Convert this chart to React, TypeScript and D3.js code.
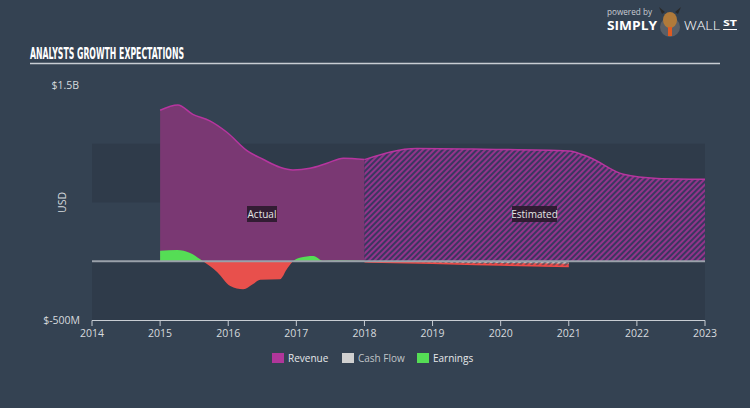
import React from "react";
import * as d3 from "d3";

const revenueActual: [number, number][] = [
  [2015.0, 1285], [2015.26, 1330], [2015.48, 1250], [2015.73, 1195], [2015.98, 1098],
  [2016.28, 940], [2016.51, 868], [2016.76, 800], [2016.95, 777], [2017.2, 791],
  [2017.45, 834], [2017.69, 877], [2018.0, 865],
];
const revenueEstimated: [number, number][] = [
  [2018.0, 865], [2018.77, 959], [2019.74, 953], [2021.0, 939], [2021.3, 885],
  [2021.8, 740], [2022.3, 705], [2023.0, 698],
];
const earningsActual: [number, number][] = [
  [2015.0, 90], [2015.25, 96], [2015.44, 70], [2015.63, 0], [2015.84, -93],
  [2016.03, -210], [2016.22, -238], [2016.36, -196], [2016.47, -157], [2016.76, -153],
  [2016.86, -68], [2016.95, 0], [2017.05, 30], [2017.25, 45], [2017.39, 5],
  [2017.6, 8], [2018.0, 4],
];
const earningsEstimated: [number, number][] = [
  [2018.0, -5], [2019.0, -18], [2020.0, -32], [2021.0, -45],
];
const cashFlowEstimated: [number, number][] = [
  [2018.0, 0], [2019.0, -8], [2020.0, -15], [2021.0, -22],
];
const xTicks = [2014, 2015, 2016, 2017, 2018, 2019, 2020, 2021, 2022, 2023];
const legendItems = [
  { label: "Revenue", color: "#b0369a" },
  { label: "Cash Flow", color: "#d0d0d0" },
  { label: "Earnings", color: "#55dd55" },
];

const W = 750, H = 408;
const FONT = "'Open Sans', 'DejaVu Sans', sans-serif";

export default function App() {
  const x = d3.scaleLinear().domain([2014, 2023]).range([92, 705]);
  const y = d3.scaleLinear().domain([-500, 1500]).range([320, 85]);
  const curve = d3.curveMonotoneX;
  const area = d3.area<[number, number]>().x(d => x(d[0])).y0(y(0)).y1(d => y(d[1])).curve(curve);
  const line = d3.line<[number, number]>().x(d => x(d[0])).y(d => y(d[1])).curve(curve);
  const x0 = x(2014), x1 = x(2023);

  return (
    <svg width={W} height={H} style={{ position: "absolute", left: 0, top: 0, display: "block" }}>
      <defs>
        <pattern id="hatchRev" patternUnits="userSpaceOnUse" width="4" height="4" patternTransform="rotate(45)">
          <rect width="4" height="4" fill="#3a3760" />
          <rect width="2" height="4" fill="#93348a" />
        </pattern>
        <pattern id="hatchRed" patternUnits="userSpaceOnUse" width="4" height="4" patternTransform="rotate(45)">
          <rect width="4" height="4" fill="#7a4a55" />
          <rect width="2" height="4" fill="#e84a4a" />
        </pattern>
        <pattern id="hatchGray" patternUnits="userSpaceOnUse" width="4" height="4" patternTransform="rotate(45)">
          <rect width="4" height="4" fill="#6a6f7a" />
          <rect width="2" height="4" fill="#b8b8b8" />
        </pattern>
        <clipPath id="above"><rect x={0} y={0} width={W} height={y(0)} /></clipPath>
        <clipPath id="below"><rect x={0} y={y(0)} width={W} height={H} /></clipPath>
      </defs>
      <rect width={W} height={H} fill="#344252" />

      {/* title */}
      <text x={30} y={59} fill="#ffffff" fontFamily="'Liberation Sans Narrow', 'DejaVu Sans Condensed', sans-serif"
        fontWeight="bold" fontSize={15} textLength={154} lengthAdjust="spacingAndGlyphs">ANALYSTS GROWTH EXPECTATIONS</text>
      <line x1={30} x2={720} y1={63.5} y2={63.5} stroke="#c8cdd3" strokeWidth={1.5} />

      {/* logo */}
      <text x={607} y={15} fill="#c8ccd2" fontFamily={FONT} fontSize={8.5} textLength={45} lengthAdjust="spacingAndGlyphs">powered by</text>
      <text x={607} y={30} fill="#ffffff" fontFamily={FONT} fontWeight="bold" fontSize={12} textLength={50} lengthAdjust="spacingAndGlyphs">SIMPLY</text>
      <circle cx={670} cy={27} r={10} fill="#5a5f66" />
      <ellipse cx={670} cy={20} rx={7} ry={8} fill="#b07a3a" />
      <path d="M662 14 L659 7 L665 12 Z M678 14 L681 7 L675 12 Z" fill="#2a2a2a" />
      <rect x={668} y={27} width={4} height={9} fill="#e05a20" />
      <text x={684} y={30} fill="#ffffff" fontFamily={FONT} fontWeight="300" fontSize={12} textLength={36} lengthAdjust="spacingAndGlyphs">WALL</text>
      <text x={723} y={26} fill="#ffffff" fontFamily={FONT} fontWeight="bold" fontSize={8.5} textLength={14} lengthAdjust="spacingAndGlyphs">ST</text>
      <line x1={723} x2={737} y1={29.5} y2={29.5} stroke="#ffffff" strokeWidth={1} />

      {/* bands */}
      <rect x={x0} y={y(1000)} width={x1 - x0} height={y(500) - y(1000)} fill="#2f3b4a" />
      <rect x={x0} y={y(0)} width={x1 - x0} height={y(-500) - y(0)} fill="#2f3b4a" />

      {/* revenue */}
      <path d={area(revenueActual) || ""} fill="#7a3873" />
      <path d={area(revenueEstimated) || ""} fill="url(#hatchRev)" />
      <path d={line(revenueActual) || ""} fill="none" stroke="#b7359f" strokeWidth={1.5} />
      <path d={line(revenueEstimated) || ""} fill="none" stroke="#b7359f" strokeWidth={1.5} />

      {/* earnings actual */}
      <path d={area(earningsActual) || ""} fill="#55dd55" clipPath="url(#above)" />
      <path d={area(earningsActual) || ""} fill="#e8504c" clipPath="url(#below)" />

      {/* estimated earnings & cash flow */}
      <path d={area(earningsEstimated) || ""} fill="url(#hatchRed)" />
      <path d={area(cashFlowEstimated) || ""} fill="url(#hatchGray)" />
      <path d={line(earningsEstimated) || ""} fill="none" stroke="#ee4c48" strokeWidth={1.5} />

      {/* zero line */}
      <line x1={x0} x2={x1} y1={y(0)} y2={y(0)} stroke="#9aa1aa" strokeWidth={2} />

      {/* labels */}
      <rect x={247} y={206} width={30} height={16} fill="#2a1a2c" opacity={0.9} />
      <text x={262} y={217.5} fill="#e6e6e6" fontFamily={FONT} fontSize={10} textAnchor="middle">Actual</text>
      <rect x={512} y={206} width={45} height={16} fill="#2a1a2c" opacity={0.9} />
      <text x={534.5} y={217.5} fill="#e6e6e6" fontFamily={FONT} fontSize={10} textAnchor="middle">Estimated</text>

      {/* y labels */}
      <text x={79} y={89} fill="#d6dade" fontFamily={FONT} fontSize={10.5} textAnchor="end">$1.5B</text>
      <text x={80} y={324} fill="#d6dade" fontFamily={FONT} fontSize={10.5} textAnchor="end">$-500M</text>
      <text transform={`translate(66,${y(500)}) rotate(-90)`} fill="#d6dade" fontFamily={FONT} fontSize={10.5} textAnchor="middle">USD</text>

      {/* x axis */}
      <line x1={x0} x2={x1} y1={320.5} y2={320.5} stroke="#c8cdd3" strokeWidth={1} />
      {xTicks.map(t => (
        <g key={t}>
          <line x1={x(t)} x2={x(t)} y1={320.5} y2={326} stroke="#c8cdd3" strokeWidth={1} />
          <text x={x(t)} y={337} fill="#d6dade" fontFamily={FONT} fontSize={10.5} textAnchor="middle">{t}</text>
        </g>
      ))}

      {/* legend */}
      {legendItems.map((it, i) => {
        const lx = [272, 342, 417][i];
        return (
          <g key={it.label}>
            <rect x={lx} y={353} width={12} height={10} fill={it.color} />
            <text x={lx + 16} y={361.5} fill={it.label === "Cash Flow" ? "#c0c4c8" : "#e6e8ea"} fontFamily={FONT} fontSize={10}>{it.label}</text>
          </g>
        );
      })}
    </svg>
  );
}
